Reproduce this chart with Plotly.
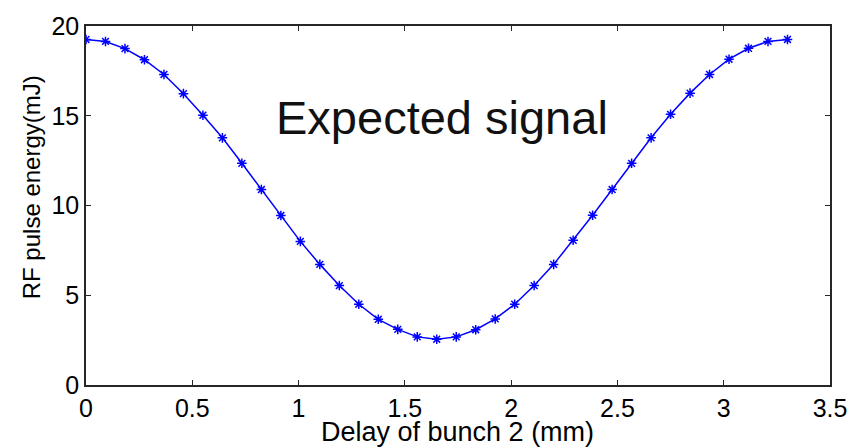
import plotly.graph_objects as go

delay_mm = [0.0, 0.0917, 0.1833, 0.275, 0.3667, 0.4583, 0.55, 0.6417, 0.7333, 0.825,
            0.9167, 1.0083, 1.1, 1.1917, 1.2833, 1.375, 1.4667, 1.5583, 1.65, 1.7417,
            1.8333, 1.925, 2.0167, 2.1083, 2.2, 2.2917, 2.3833, 2.475, 2.5667, 2.6583,
            2.75, 2.8417, 2.9333, 3.025, 3.1167, 3.2083, 3.3]
energy_mJ = [19.25, 19.14, 18.74, 18.12, 17.3, 16.23, 15.03, 13.77, 12.35, 10.89,
             9.44, 8.0, 6.72, 5.54, 4.5, 3.66, 3.1, 2.68, 2.55, 2.68,
             3.08, 3.68, 4.5, 5.54, 6.72, 8.06, 9.46, 10.89, 12.35, 13.77,
             15.08, 16.26, 17.3, 18.15, 18.76, 19.14, 19.25]
x_ticks = [0, 0.5, 1, 1.5, 2, 2.5, 3, 3.5]
x_ticktext = ["0", "0.5", "1", "1.5", "2", "2.5", "3", "3.5"]
y_ticks = [0, 5, 10, 15, 20]
y_ticktext = ["0", "5", "10", "15", "20"]

FONT = "Liberation Sans, Arial, sans-serif"

W, H = 864, 447
L, R, T, B = 86, 34, 20, 62
pw, ph = W - L - R, H - T - B

fig = go.Figure()
fig.add_trace(go.Scatter(
    x=delay_mm, y=energy_mJ, mode="lines+markers",
    line=dict(color="#0000ff", width=1.5),
    marker=dict(symbol="asterisk-open", size=8, color="#0000ff",
                line=dict(color="#0000ff", width=1.5)),
    showlegend=False,
))

axis_common = dict(
    showgrid=False, zeroline=False, showline=True, linecolor="#262626",
    linewidth=1.5, mirror="ticks", ticks="inside", ticklen=5, tickwidth=1,
    tickcolor="#262626", tickfont=dict(family=FONT, size=25, color="#000000"),
)
fig.update_xaxes(range=[0, 3.5], tickvals=x_ticks, ticktext=x_ticktext, **axis_common)
fig.update_yaxes(range=[0, 20], tickvals=y_ticks, ticktext=y_ticktext, **axis_common)

fig.add_annotation(text="Expected signal", x=1.675, y=14.9, xref="x", yref="y",
                   showarrow=False, xanchor="center", yanchor="middle",
                   font=dict(family=FONT, size=47, color="#111111"))
fig.add_annotation(text="Delay of bunch 2 (mm)",
                   x=(457 - L) / pw, y=(H - 433 - B) / ph, xref="paper", yref="paper",
                   xanchor="center", yanchor="middle", showarrow=False,
                   font=dict(family=FONT, size=27, color="#000000"))
fig.add_annotation(text="RF pulse energy(mJ)",
                   x=(31 - L) / pw, y=(H - 184 - B) / ph, xref="paper", yref="paper",
                   xanchor="center", yanchor="middle", showarrow=False, textangle=-90,
                   font=dict(family=FONT, size=24, color="#000000"))

fig.update_layout(
    width=W, height=H, margin=dict(l=L, r=R, t=T, b=B),
    paper_bgcolor="white", plot_bgcolor="white",
    font=dict(family=FONT, size=24, color="#000000"),
)
fig.write_html("out.html")
